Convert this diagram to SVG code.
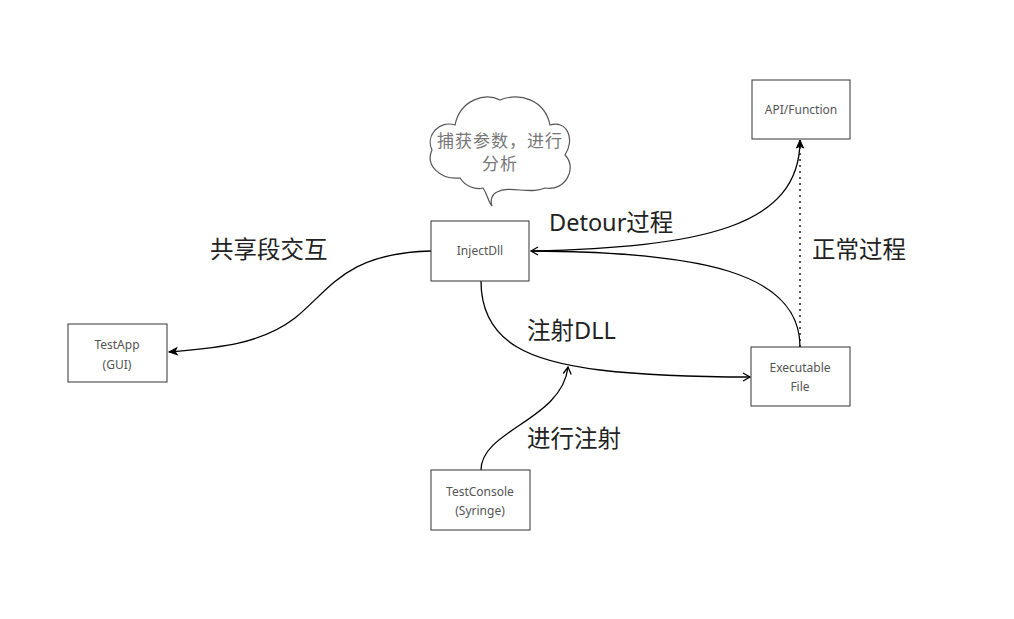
<svg xmlns="http://www.w3.org/2000/svg" width="1014" height="619" viewBox="0 0 1014 619">
<style>
.box{fill:#fff;stroke:#333;stroke-width:1}
.bt{font-family:"Noto Sans","Open Sans","Noto Sans CJK SC",sans-serif;font-size:12px;fill:#555;text-anchor:middle}
.lbl{font-family:"Noto Sans","Noto Sans CJK SC",sans-serif;font-size:23.5px;fill:#222}
.cl{font-family:"Noto Sans CJK SC",sans-serif;font-size:17px;letter-spacing:1px;fill:#777;text-anchor:middle}
.edge{fill:none;stroke:#000;stroke-width:1.3}
</style>
<defs>
<marker id="open" markerWidth="12" markerHeight="12" refX="10" refY="6" orient="auto" markerUnits="userSpaceOnUse">
<path d="M3,2 L10,6 L3,10" fill="none" stroke="#000" stroke-width="1.3"/>
</marker>
<marker id="fill" markerWidth="12" markerHeight="12" refX="10" refY="6" orient="auto" markerUnits="userSpaceOnUse">
<path d="M2,2.5 L10,6 L2,9.5 L4,6 Z" fill="#000" stroke="#000" stroke-width="1"/>
</marker>
</defs>
<rect width="1014" height="619" fill="#fff"/>
<g id="connectors">
<path class="edge" d="M431,251 C345,253 330,290 295,318 C260,345 215,348 169,352" stroke-width="1" marker-end="url(#fill)"/>
<path class="edge" d="M481,281 C481,345 535,362 600,370 C660,377 715,377 750,377" marker-end="url(#open)"/>
<path class="edge" d="M481,470 C481,430 562,420 568,367" marker-end="url(#open)"/>
<path class="edge" d="M531,251 C700,247 800,228 800,140" marker-end="url(#fill)"/>
<path class="edge" d="M800,347 C800,272 700,252 531,251" marker-end="url(#open)"/>
<path class="edge" d="M800,347 L800,146" stroke-dasharray="2,4"/>
</g>
<g id="cloud">
<path d="M455,125 C440,120 425,135 432,150 C425,165 440,180 460,178 C465,186 475,190 483,188 C488,195 488,202 492,206 C490,200 492,194 497,192 C510,185 530,195 545,188 C565,192 578,168 565,155 C575,140 568,120 550,125 C545,100 520,92 500,100 C485,92 460,100 455,125 Z" fill="#fff" stroke="#555" stroke-width="1.2"/>
<text class="cl" x="500" y="147">捕获参数，进行</text>
<text class="cl" x="500" y="170">分析</text>
</g>
<g id="api">
<rect class="box" x="752" y="80" width="98" height="59"/>
<text class="bt" x="801" y="114">API/Function</text>
</g>
<g id="injectdll">
<rect class="box" x="431" y="221" width="98" height="60"/>
<text class="bt" x="480" y="255">InjectDll</text>
</g>
<g id="testapp">
<rect class="box" x="68" y="324" width="99" height="58"/>
<text class="bt" x="117" y="349">TestApp</text>
<text class="bt" x="117" y="369">(GUI)</text>
</g>
<g id="executable">
<rect class="box" x="751" y="347" width="99" height="59"/>
<text class="bt" x="800" y="372">Executable</text>
<text class="bt" x="800" y="391">File</text>
</g>
<g id="testconsole">
<rect class="box" x="431" y="470" width="99" height="60"/>
<text class="bt" x="480" y="496">TestConsole</text>
<text class="bt" x="480" y="515">(Syringe)</text>
</g>
<g id="labels">
<text class="lbl" x="210" y="258">共享段交互</text>
<text class="lbl" x="549" y="231">Detour过程</text>
<text class="lbl" x="812" y="258">正常过程</text>
<text class="lbl" x="527" y="339">注射DLL</text>
<text class="lbl" x="527" y="447">进行注射</text>
</g>
</svg>
